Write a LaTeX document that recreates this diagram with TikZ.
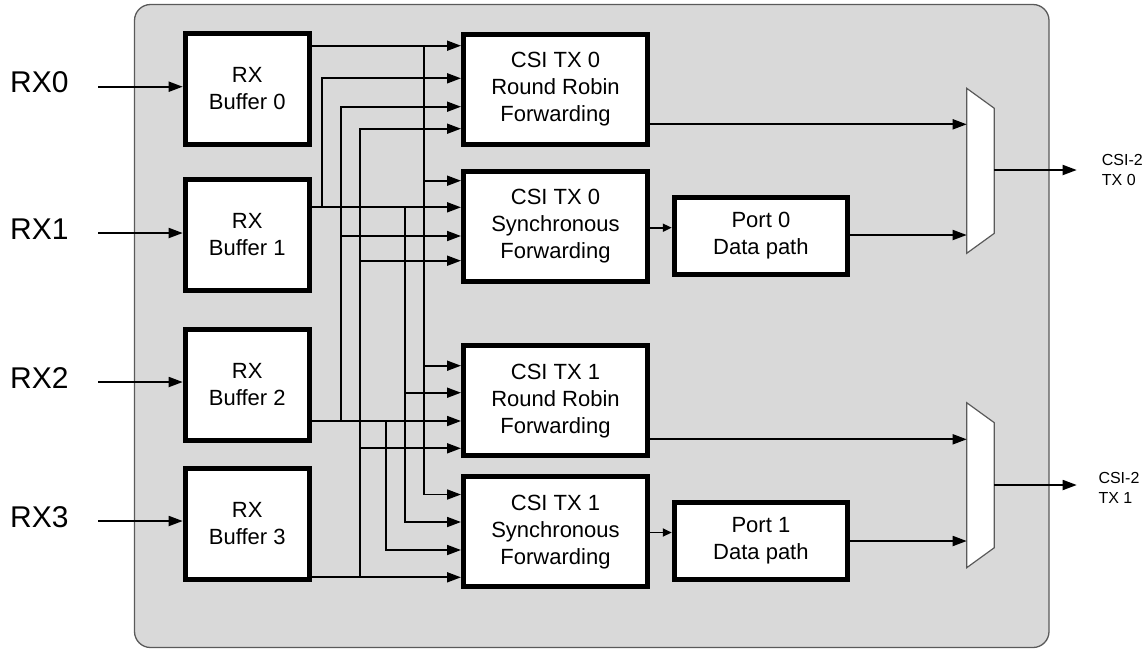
\documentclass[tikz,border=0pt]{standalone}
\usepackage{fontspec}
\setmainfont{Liberation Sans}
\usetikzlibrary{arrows.meta}
\definecolor{panel}{HTML}{D9D9D9}
\definecolor{rim}{HTML}{5A5A5A}
\begin{document}
\begin{tikzpicture}[x=1pt,y=-1pt,
  blk/.style={draw, line width=5pt, fill=white, align=center, font=\fontsize{22}{27}\selectfont, inner sep=0pt},
  buf/.style={blk, minimum width=124pt, minimum height=111pt},
  csi/.style={blk, minimum width=184pt, minimum height=110pt},
  port/.style={blk, minimum width=173.3pt, minimum height=77pt},
  wire/.style={line width=1.8pt},
  arr/.style={wire, -{Triangle[length=14pt,width=10pt]}},
  sarr/.style={wire, -{Triangle[length=9pt,width=8pt]}},
  rxlab/.style={font=\fontsize{30}{36}\selectfont, inner sep=0pt, anchor=west},
  outlab/.style={font=\fontsize{16}{20}\selectfont, inner sep=0pt, anchor=west, align=left},
  mux/.style={fill=white, draw=rim, line width=1.2pt}
]
\useasboundingbox (0,0) rectangle (1147,649);
\draw[fill=panel, draw=rim, line width=1.3pt, rounded corners=16pt] (134.5,4.5) rectangle (1049,647.5);

% RX buffers
\node[buf] (b0) at (247.2,89) {RX\\Buffer 0};
\node[buf] (b1) at (247.2,235) {RX\\Buffer 1};
\node[buf] (b2) at (247.2,384.5) {RX\\Buffer 2};
\node[buf] (b3) at (247.2,523.5) {RX\\Buffer 3};

% CSI forwarding blocks
\node[csi] (rr0) at (555.5,89.5) {CSI TX 0\\Round Robin\\Forwarding};
\node[csi] (sy0) at (555.5,226.3) {CSI TX 0\\Synchronous\\Forwarding};
\node[csi] (rr1) at (555.5,400.8) {CSI TX 1\\Round Robin\\Forwarding};
\node[csi] (sy1) at (555.5,531.7) {CSI TX 1\\Synchronous\\Forwarding};

% Ports
\node[port] (p0) at (760.9,235.5) {Port 0\\Data path};
\node[port] (p1) at (760.9,540.5) {Port 1\\Data path};

% Inputs
\node[rxlab] (l0) at (10,82.5) {RX0};
\node[rxlab] (l1) at (10,229) {RX1};
\node[rxlab] (l2) at (10,378) {RX2};
\node[rxlab] (l3) at (10,517) {RX3};
\coordinate (i0) at (98.3,86.7);
\coordinate (i1) at (98.3,233);
\coordinate (i2) at (98.3,382);
\coordinate (i3) at (98.3,521);
\draw[arr] (i0) -- (b0.west |- i0);
\draw[arr] (i1) -- (b1.west |- i1);
\draw[arr] (i2) -- (b2.west |- i2);
\draw[arr] (i3) -- (b3.west |- i3);

% RX0 distribution
\coordinate (j0) at (423.7,45.7);
\draw[arr] (b0.east |- j0) -- (rr0.west |- j0);
\draw[arr] (j0) |- (sy0.west |- 0,180.7);
\draw[arr] (j0) |- (rr1.west |- 0,365.7);
\draw[arr] (j0) |- (sy1.west |- 0,494.5);

% RX1 distribution
\coordinate (j1u) at (322.3,207.3);
\coordinate (j1d) at (405.3,207.3);
\draw[arr] (b1.east |- j1u) -- (sy0.west |- j1u);
\draw[arr] (j1u) |- (rr0.west |- 0,78.3);
\draw[arr] (j1d) |- (rr1.west |- 0,392.7);
\draw[arr] (j1d) |- (sy1.west |- 0,522);

% RX2 distribution
\coordinate (j2u) at (341,421);
\coordinate (j2d) at (386.3,421);
\draw[arr] (b2.east |- j2u) -- (rr1.west |- j2u);
\draw[arr] (j2u) |- (rr0.west |- 0,106.7);
\draw[arr] (j2u) |- (sy0.west |- 0,236);
\draw[arr] (j2d) |- (sy1.west |- 0,550);

% RX3 distribution
\coordinate (j3) at (359.7,577.3);
\draw[arr] (b3.east |- j3) -- (sy1.west |- j3);
\draw[arr] (j3) |- (rr0.west |- 0,128.7);
\draw[arr] (j3) |- (sy0.west |- 0,260.7);
\draw[arr] (j3) |- (rr1.west |- 0,448.3);

% Muxes
\draw[mux] (966.7,88.3) -- (994.3,108.3) -- (994.3,233.3) -- (966.7,253.3) -- cycle;
\draw[mux] (966.7,402.7) -- (994.3,422.7) -- (994.3,547.7) -- (966.7,567.7) -- cycle;
\coordinate (m0a) at (966.7,124.3);
\coordinate (m0b) at (966.7,235);
\coordinate (m0o) at (994.3,170);
\coordinate (o0) at (1076.7,170);
\coordinate (m1a) at (966.7,439.3);
\coordinate (m1b) at (966.7,541);
\coordinate (m1o) at (994.3,485);
\coordinate (o1) at (1076.7,485);

\draw[arr] (rr0.east |- m0a) -- (m0a);
\draw[sarr] (sy0.east |- 0,227.7) -- (p0.west |- 0,227.7);
\draw[arr] (p0.east |- m0b) -- (m0b);
\draw[arr] (m0o) -- (o0);

\draw[arr] (rr1.east |- m1a) -- (m1a);
\draw[sarr] (sy1.east |- 0,532.5) -- (p1.west |- 0,532.5);
\draw[arr] (p1.east |- m1b) -- (m1b);
\draw[arr] (m1o) -- (o1);

\node[outlab] (t0) at (1101.7,170.3) {CSI-2\\TX 0};
\node[outlab] (t1) at (1098.3,487.5) {CSI-2\\TX 1};
\end{tikzpicture}
\end{document}
